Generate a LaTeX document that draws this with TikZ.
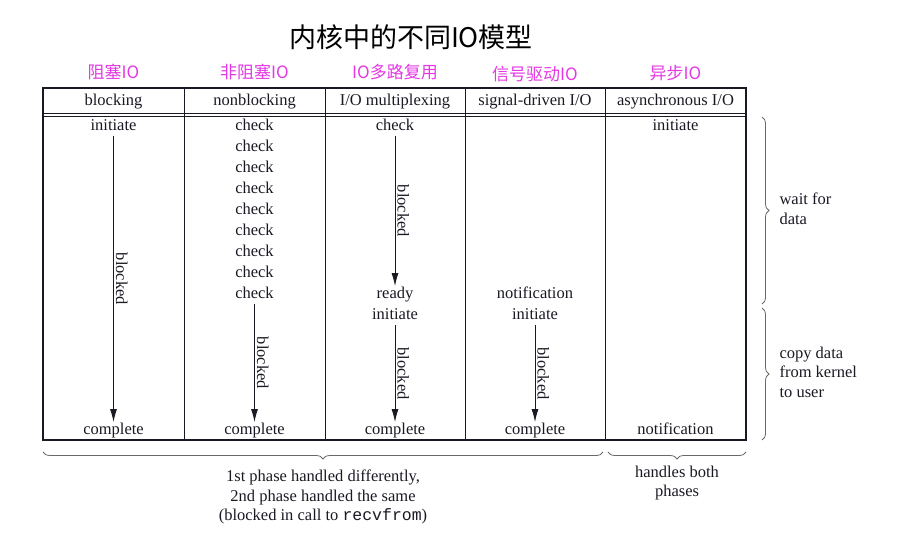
\documentclass[tikz,border=0pt]{standalone}
\usepackage{fontspec}
\setmainfont{Liberation Serif}
\setmonofont{Liberation Mono}
\newfontfamily\cjk{Noto Sans CJK SC}
\usepackage{tikz}
\usetikzlibrary{positioning,arrows.meta,decorations.pathreplacing}

\definecolor{zhmag}{RGB}{228,56,228}
\definecolor{bracegray}{RGB}{105,105,105}
\definecolor{ink}{RGB}{25,25,35}

\tikzset{
    cell/.style={font=\fontsize{16.5}{18}\selectfont, text=ink, inner sep=1.5pt, text height=11pt, text depth=3.5pt, yshift=-2pt},
    zhhead/.style={font=\cjk\fontsize{17}{19}\selectfont, text=zhmag},
    grid/.style={draw=ink, line width=1.1pt},
    blockarrow/.style={-{Latex[length=13pt,width=7pt]}, line width=0.9pt, draw=ink},
    blocklab/.style={midway, sloped, above, font=\fontsize{16.5}{18}\selectfont, text=ink, inner sep=2pt},
    phasebrace/.style={decorate, decoration={brace, amplitude=7pt}, draw=bracegray, line width=0.8pt},
    note/.style={font=\fontsize{16.5}{19.5}\selectfont, text=ink},
}

\begin{document}
\begin{tikzpicture}[x=1pt, y=-1pt]
    \useasboundingbox (0,0) rectangle (915,540);

    \node[font=\cjk\fontsize{27}{30}\selectfont] (title) at (411,37) {内核中的不同IO模型};

    % table
    \draw[grid] (43,88) rectangle (746,440);
    \draw[grid, line width=0.9pt] (43,113) -- (746,113) (43,116.5) -- (746,116.5);
    \foreach \x in {184,325,465,605}
        \draw[grid, line width=0.9pt] (\x,88) -- (\x,440);

    % heads
    \node[zhhead] (blk-zh) at (113.5,72) {阻塞IO};
    \node[zhhead] (nb-zh)  at (254.5,72) {非阻塞IO};
    \node[zhhead] (mux-zh) at (395,72)   {IO多路复用};
    \node[zhhead] (sig-zh) at (535,74)   {信号驱动IO};
    \node[zhhead] (aio-zh) at (675.5,73) {异步IO};

    \node[cell] (blk-head) at (113.5,100) {blocking};
    \node[cell] (nb-head)  at (254.5,100) {nonblocking};
    \node[cell] (mux-head) at (395,100)   {I/O multiplexing};
    \node[cell] (sig-head) at (535,100)   {signal-driven I/O};
    \node[cell] (aio-head) at (675.5,100) {asynchronous I/O};

    % blocking
    \node[cell] (blk-init) at (113.5,125) {initiate};
    \node[cell] (blk-done) at (113.5,429) {complete};

    % nonblocking
    \foreach \i in {1,...,9}
        \node[cell] (nb-\i) at (254.5,{104+21*\i}) {check};
    \node[cell] (nb-done) at (254.5,429) {complete};

    % multiplexing
    \node[cell] (mux-check) at (395,125) {check};
    \node[cell] (mux-ready) at (395,293) {ready};
    \node[cell] (mux-init)  at (395,314) {initiate};
    \node[cell] (mux-done)  at (395,429) {complete};

    % signal-driven
    \node[cell] (sig-note) at (535,293) {notification};
    \node[cell] (sig-init) at (535,314) {initiate};
    \node[cell] (sig-done) at (535,429) {complete};

    % asynchronous
    \node[cell] (aio-init) at (675.5,125) {initiate};
    \node[cell] (aio-note) at (675.5,429) {notification};

    \draw[blockarrow] (blk-init) -- node[blocklab] {blocked} (blk-done);
    \draw[blockarrow] (nb-9) -- node[blocklab] {blocked} (nb-done);
    \draw[blockarrow] (mux-check) -- node[blocklab] {blocked} (mux-ready);
    \draw[blockarrow] (mux-init) -- node[blocklab] {blocked} (mux-done);
    \draw[blockarrow] (sig-init) -- node[blocklab] {blocked} (sig-done);

    % braces
    \coordinate (wait-top) at (762,117);
    \coordinate (wait-bot) at (762,304);
    \coordinate (copy-top) at (762,308);
    \coordinate (copy-bot) at (762,440);
    \coordinate (diff-r) at (603,452);
    \coordinate (diff-l) at (43,452);
    \coordinate (both-r) at (746,452);
    \coordinate (both-l) at (608,452);

    \draw[phasebrace] (wait-top) -- (wait-bot);
    \draw[phasebrace] (copy-top) -- (copy-bot);
    \draw[phasebrace] (diff-r) -- (diff-l);
    \draw[phasebrace] (both-r) -- (both-l);

    \node[note, align=left, anchor=west] (wait-lab) at (776,209) {wait for\\data};
    \node[note, align=left, anchor=west] (copy-lab) at (776,372) {copy data\\from kernel\\to user};
    \node[note, align=center] (diff-lab) at (323,497) {1st phase handled differently,\\2nd phase handled the same\\(blocked in call to \texttt{recvfrom})};
    \node[note, align=center] (both-lab) at (677,483) {handles both\\phases};
\end{tikzpicture}
\end{document}
